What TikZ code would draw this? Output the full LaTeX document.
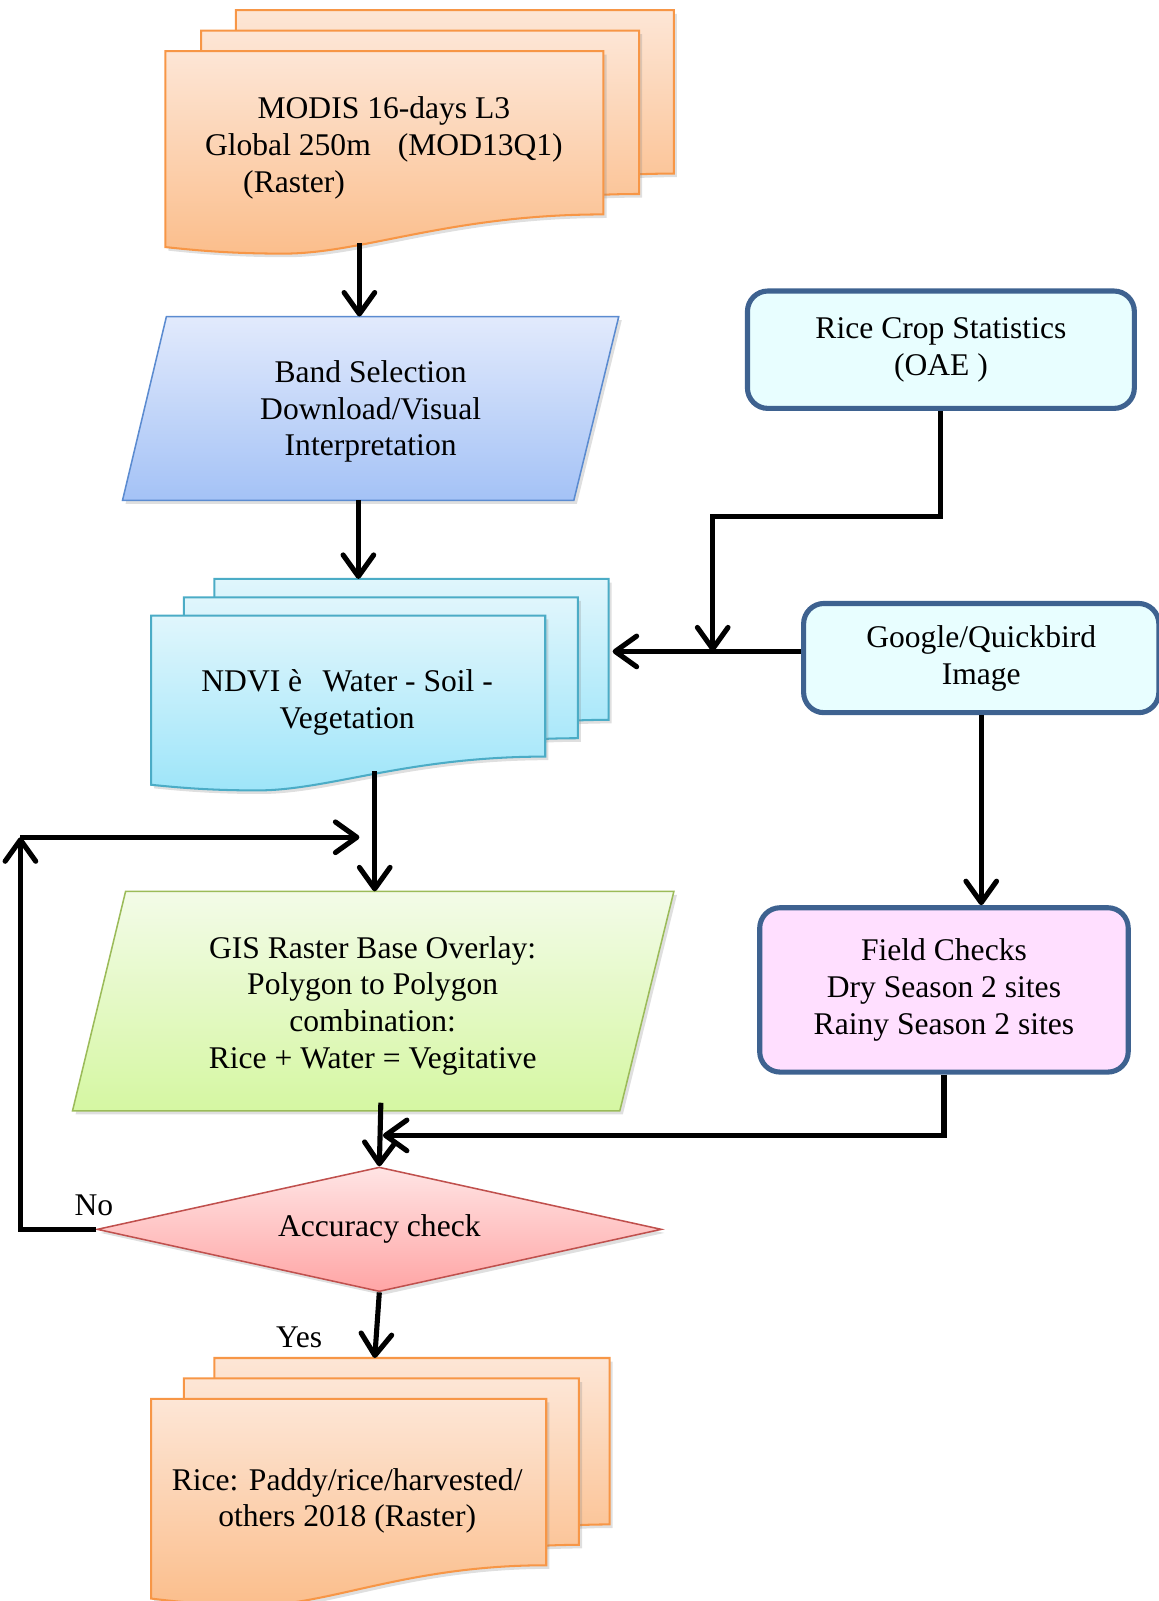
\documentclass[tikz,border=0pt]{standalone}
\usepackage{fontspec}
\setmainfont{Liberation Serif}
\usetikzlibrary{%
  arrows.meta,%
  calc,%
  shapes.geometric,%
  shadows%
}

\definecolor{orangeline}{HTML}{F79646}
\definecolor{orangetop}{HTML}{FDE6D6}
\definecolor{orangebot}{HTML}{FBBE8C}
\definecolor{blueline}{HTML}{5B8BD0}
\definecolor{bluetop}{HTML}{E2EAFC}
\definecolor{bluebot}{HTML}{A4C2F6}
\definecolor{cyanline}{HTML}{4BACC6}
\definecolor{cyantop}{HTML}{E0F6FC}
\definecolor{cyanbot}{HTML}{9EE5F9}
\definecolor{greenline}{HTML}{9BBB59}
\definecolor{greentop}{HTML}{F3FBE8}
\definecolor{greenbot}{HTML}{D5F7A2}
\definecolor{redline}{HTML}{C0504D}
\definecolor{redtop}{HTML}{FFE4E4}
\definecolor{redbot}{HTML}{FFA5A5}
\definecolor{boxline}{HTML}{3E6290}
\definecolor{boxcyan}{HTML}{E8FEFF}
\definecolor{boxpink}{HTML}{FFDFFF}

\newcommand{\docsheet}[5]{%
  \draw[#1,shift={(#2,#3)}] (0,0) -- (#4,0) -- (#4,#5)
    .. controls ({0.65*#4},#5) and ({0.45*#4},{1.24*#5}) .. ({0.27*#4},{1.24*#5})
    .. controls ({0.15*#4},{1.24*#5}) and ({0.07*#4},{1.22*#5}) .. (0,{1.2*#5}) -- cycle%
}

\tikzset{
  soft/.style={drop shadow={shadow xshift=0.06cm,shadow yshift=-0.07cm,opacity=0.25}},
  orangesheet/.style={draw=orangeline,line width=0.04cm,top color=orangetop,bottom color=orangebot,soft},
  cyansheet/.style={draw=cyanline,line width=0.04cm,top color=cyantop,bottom color=cyanbot,soft},
  bandbox/.style={draw=blueline,line width=0.03cm,top color=bluetop,bottom color=bluebot,soft},
  gisbox/.style={draw=greenline,line width=0.03cm,top color=greentop,bottom color=greenbot,soft},
  roundbox/.style={draw=boxline,line width=0.1cm,rounded corners=0.4cm,inner sep=0pt,align=center},
  check/.style={diamond,aspect=4.5,draw=redline,line width=0.03cm,top color=redtop,bottom color=redbot,
    inner sep=0pt,minimum width=11.06cm,minimum height=2.44cm,soft},
  lbl/.style={align=center,inner sep=0pt},
  flow/.style={line width=0.1cm,->}
}

\begin{document}
\begin{tikzpicture}[x=0.02cm,y=-0.02cm,font=\fontsize{17.6}{20.5}\selectfont,
  >={Straight Barb[length=0.42cm,width=0.6cm,round]}]
  \useasboundingbox (0,0) rectangle (1135,1568);

  \foreach \dx/\dy in {69/40,35/20,0/0}
    \docsheet{orangesheet}{162+\dx}{50-\dy}{429}{160};
  \node[lbl] (modis) at (376,145) {MODIS 16-days L3\\Global 250m\hspace{0.53cm}(MOD13Q1)\\(Raster)\hspace*{3.52cm}};

  \draw[bandbox] (163,310) -- (606,310) -- (562,490) -- (120,490) -- cycle;
  \node[lbl] (band) at (363,403) {Band Selection\\Download/Visual\\Interpretation};

  \foreach \dx/\dy in {62/36,32/18,0/0}
    \docsheet{cyansheet}{148+\dx}{603-\dy}{386}{138};
  \node[lbl] (ndvi) at (340,688) {NDVI è\hspace{0.4cm}Water - Soil -\\Vegetation};

  \draw[gisbox] (123,873) -- (660,873) -- (607,1088) -- (71,1088) -- cycle;
  \node[lbl] (gis) at (365,985) {GIS Raster Base Overlay:\\Polygon to Polygon\\combination:\\Rice + Water = Vegitative};

  \node[check] (acc) at (371.5,1204) {Accuracy check};

  \foreach \dx/\dy in {62/40,32/20,0/0}
    \docsheet{orangesheet}{148+\dx}{1370-\dy}{387}{163};
  \node[lbl] (out) at (340,1470) {Rice: Paddy/rice/harvested/\\others 2018 (Raster)};

  \node[roundbox,fill=boxcyan,minimum width=7.58cm,minimum height=2.3cm] (rice) at (921.5,342.5) {Rice Crop Statistics\\(OAE )};
  \node[roundbox,fill=boxcyan,minimum width=6.96cm,minimum height=2.14cm] (google) at (961,644.5) {Google/Quickbird\\Image};
  \node[roundbox,fill=boxpink,minimum width=7.22cm,minimum height=3.22cm] (field) at (924.5,969.5) {Field Checks\\Dry Season 2 sites\\Rainy Season 2 sites};

  \node (no) at (92,1180) {No};
  \node (yes) at (293,1310) {Yes};

  \coordinate (modis-s) at (352,238);
  \coordinate (band-n) at (352,310);
  \coordinate (band-s) at (351,490);
  \coordinate (ndvi-n) at (351,567);
  \coordinate (ndvi-s) at (367,755);
  \coordinate (gis-n) at (367,873);
  \coordinate (gis-s) at (373,1080);
  \coordinate (ndvi-e) at (600,638);
  \coordinate (elbow) at (698,506);
  \coordinate (merge) at (698,638);
  \coordinate (acc-e) at (375,1112);
  \coordinate (out-n) at (367,1330);
  \coordinate (loop) at (20,820);
  \coordinate (gis-w) at (352,820);

  \draw[flow] (modis-s) -- (band-n);
  \draw[flow] (band-s) -- (ndvi-n);
  \draw[flow] (ndvi-s) -- (gis-n);
  \draw[flow] (rice.south) |- (elbow) -- (merge);
  \draw[flow] (google.west |- ndvi-e) -- (ndvi-e);
  \draw[flow] (google.south) -- (google.south |- field.north);
  \draw[flow] (field.south) |- (acc-e);
  \draw[flow] (gis-s) -- (acc.north);
  \draw[flow] (acc.south) -- (out-n);
  \draw[flow] (acc.west) -| (loop);
  \draw[flow] (loop) -- (gis-w);
\end{tikzpicture}
\end{document}
